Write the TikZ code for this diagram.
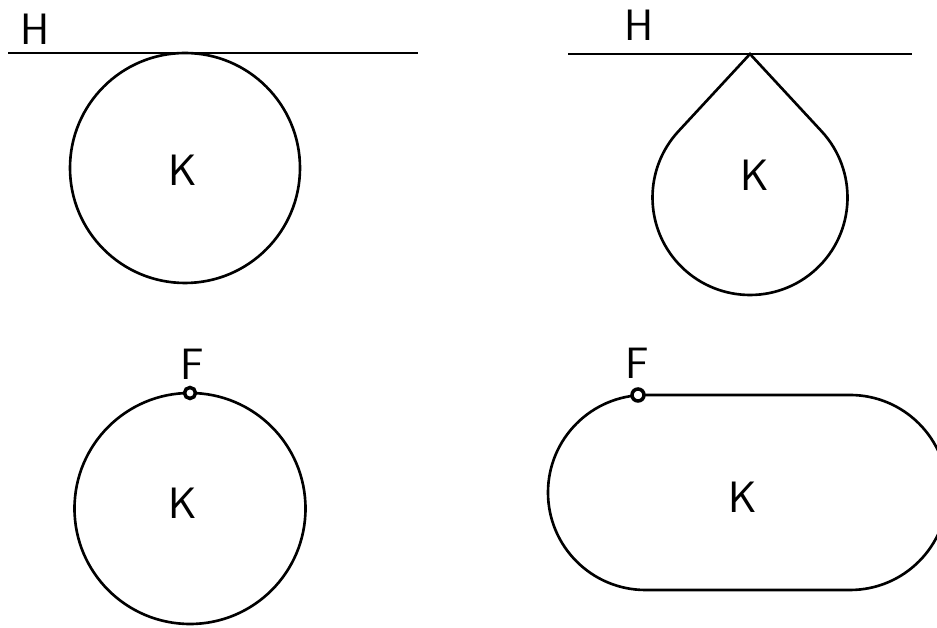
\documentclass[tikz,border=0pt]{standalone}
\usepackage{amsmath,amssymb}
\usepackage{tikz}

\begin{document}
\begin{tikzpicture}[x=0.02cm,y=0.02cm,
    curve/.style={line width=1.5pt},
    lbl/.style={font=\fontsize{25}{30}\selectfont\sffamily},
    pin/.style={line width=2pt,fill=white}]
  \useasboundingbox (0,0) rectangle (937,628);
  \clip (0,0) rectangle (937,628);
  \coordinate (C1) at (185,460);
  \coordinate (C2) at (750,430.5);
  \coordinate (C3) at (190,119.5);
  \coordinate (T2) at (750,574);
  \coordinate (F3) at (190,235);
  \coordinate (F4) at (645.5,233);
  \coordinate (R4) at (850,233);
  \coordinate (B4) at (645.5,38);
  \draw[curve] (8,575) -- (418,575);
  \draw[curve] (C1) circle[radius=115];
  \draw[curve] (568,574) -- (912,574);
  \draw[curve] (T2) -- ([shift={(42.8:97.5)}]C2) arc[start angle=42.8,end angle=-222.8,radius=97.5] -- cycle;
  \draw[curve] (C3) circle[radius=115.5];
  \draw[curve] (F4) -- (R4) arc[start angle=90,end angle=-90,radius=97.5] -- (B4) arc[start angle=270,end angle=90,radius=97.5];
  \draw[pin] (F3) circle[radius=5.5];
  \draw[pin] (638,233) circle[radius=6];
  \node[lbl] (H1) at (35,599) {H};
  \node[lbl] (K1) at (183,458) {K};
  \node[lbl] (H2) at (639,603) {H};
  \node[lbl] (K2) at (755,453) {K};
  \node[lbl] (F3l) at (192,264) {F};
  \node[lbl] (K3) at (183,125) {K};
  \node[lbl] (F4l) at (637,265) {F};
  \node[lbl] (K4) at (743,131) {K};
\end{tikzpicture}
\end{document}
